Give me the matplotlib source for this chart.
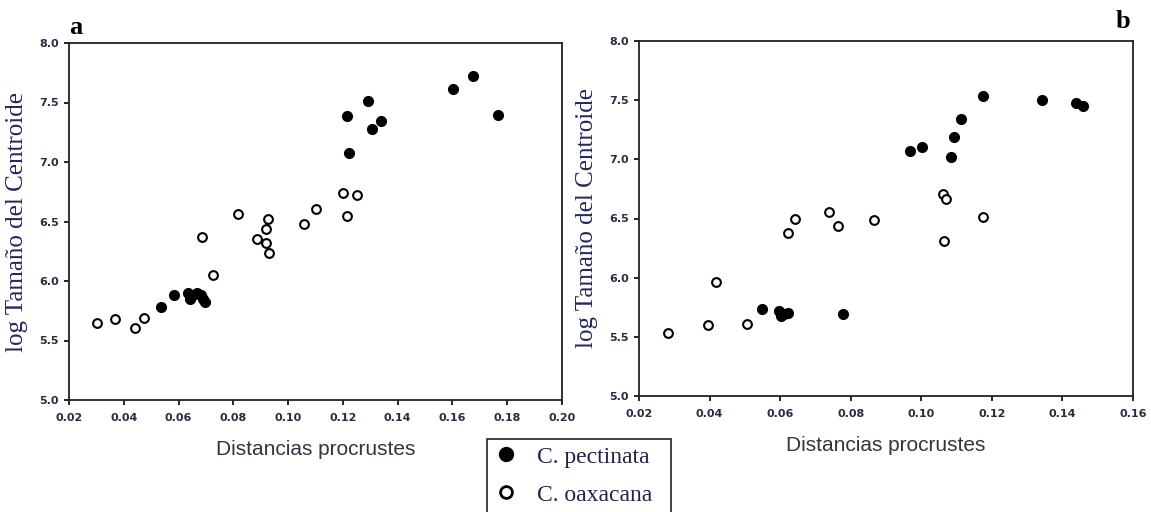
import numpy as np
import matplotlib.pyplot as plt
from matplotlib.lines import Line2D

# panel a
a_pec_x = [0.0584, 0.0535, 0.0633, 0.0640, 0.0654, 0.0668, 0.0681, 0.0688, 0.0695,
           0.1214, 0.1223, 0.1292, 0.1306, 0.1340, 0.1602, 0.1675, 0.1767]
a_pec_y = [5.883, 5.779, 5.897, 5.850, 5.880, 5.900, 5.880, 5.850, 5.820,
           7.383, 7.075, 7.509, 7.277, 7.341, 7.613, 7.725, 7.397]
a_oax_x = [0.0302, 0.0367, 0.0440, 0.0475, 0.0727, 0.0685, 0.0817, 0.0888, 0.0918,
           0.0921, 0.0928, 0.0930, 0.1058, 0.1100, 0.1200, 0.1250, 0.1216]
a_oax_y = [5.650, 5.681, 5.603, 5.693, 6.049, 6.368, 6.567, 6.357, 6.318,
           6.435, 6.520, 6.234, 6.483, 6.604, 6.738, 6.724, 6.550]

# panel b
b_pec_x = [0.1176, 0.1342, 0.1439, 0.1458, 0.1112, 0.1092, 0.1085, 0.1002, 0.0968,
           0.0550, 0.0597, 0.0602, 0.0612, 0.0621, 0.0779]
b_pec_y = [7.537, 7.504, 7.476, 7.448, 7.341, 7.187, 7.018, 7.102, 7.069,
           5.737, 5.720, 5.680, 5.690, 5.700, 5.697]
b_oax_x = [0.0282, 0.0396, 0.0419, 0.0505, 0.0623, 0.0641, 0.0739, 0.0765, 0.0866,
           0.1061, 0.1071, 0.1063, 0.1174]
b_oax_y = [5.533, 5.598, 5.962, 5.611, 6.374, 6.494, 6.559, 6.438, 6.489,
           6.710, 6.668, 6.312, 6.509]

a_xticks = np.arange(0.02, 0.2001, 0.02)
b_xticks = np.arange(0.02, 0.1601, 0.02)
yticks = np.arange(5.0, 8.01, 0.5)

tick_col = '#2a2a44'
ylab_col = '#262660'

W, H = 1151, 512
fig = plt.figure(figsize=(W / 100, H / 100), dpi=100)

def box(x0, x1, top, bottom):
    return [x0 / W, 1 - bottom / H, (x1 - x0) / W, (bottom - top) / H]

ax1 = fig.add_axes(box(69, 562, 43, 400))
ax2 = fig.add_axes(box(639, 1133, 41, 396))

panels = [(ax1, a_pec_x, a_pec_y, a_oax_x, a_oax_y, a_xticks),
          (ax2, b_pec_x, b_pec_y, b_oax_x, b_oax_y, b_xticks)]

for ax, px, py, ox, oy, xt in panels:
    ax.plot(px, py, 'o', color='black', markersize=7, linestyle='none')
    ax.plot(ox, oy, 'o', markerfacecolor='white', markeredgecolor='black',
            markeredgewidth=1.5, markersize=6.3, linestyle='none')
    ax.set_xlim(xt[0], xt[-1])
    ax.set_ylim(5.0, 8.0)
    ax.set_xticks(xt)
    ax.set_xticklabels([f'{v:.2f}' for v in xt])
    ax.set_yticks(yticks)
    ax.set_yticklabels([f'{v:.1f}' for v in yticks])
    ax.tick_params(direction='out', length=3.5, width=1.2, labelsize=8,
                   labelcolor=tick_col)
    ax.tick_params(axis='x', pad=6)
    ax.tick_params(axis='y', pad=4)
    for t in ax.get_xticklabels() + ax.get_yticklabels():
        t.set_fontweight('bold')
    for s in ax.spines.values():
        s.set_linewidth(1.3)
        s.set_color('#222222')
    ax.set_xlabel('Distancias procrustes', fontsize=15, family='Liberation Sans',
                  color='#333344', labelpad=12)
    ax.set_ylabel('log Tamaño del Centroide', fontsize=18, family='Liberation Serif',
                  color=ylab_col, labelpad=8)

fig.text(76 / W, 1 - 27 / H, 'a', fontsize=19, fontweight='bold',
         family='Liberation Serif', va='center', ha='center')
fig.text(1123 / W, 1 - 22 / H, 'b', fontsize=19, fontweight='bold',
         family='Liberation Serif', va='center', ha='center')

handles = [Line2D([], [], marker='o', color='black', linestyle='none', markersize=10),
           Line2D([], [], marker='o', markerfacecolor='white', markeredgecolor='black',
                  markeredgewidth=2, linestyle='none', markersize=8.5)]
leg = fig.legend(handles, ['C. pectinata', 'C. oaxacana'], loc='upper left',
                 bbox_to_anchor=(487 / W, 0, 184 / W, 1 - 439 / H), mode='expand',
                 frameon=True, fancybox=False,
                 edgecolor='black', prop={'family': 'Liberation Serif', 'size': 17},
                 handlelength=1.0, handletextpad=0.8, borderpad=0.3,
                 labelspacing=0.7, borderaxespad=0)
leg.get_frame().set_linewidth(1.3)
for t in leg.get_texts():
    t.set_color('#22224a')

fig.savefig('out.png', dpi=100)
